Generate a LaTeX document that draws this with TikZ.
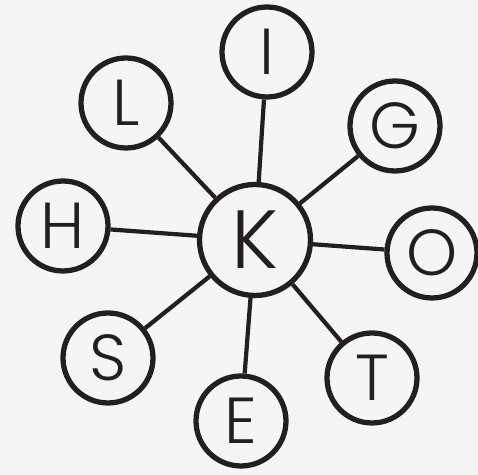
\documentclass[tikz,border=0pt]{standalone}
\usepackage{fontspec}
\setmainfont{Poppins Light}
\definecolor{bgcol}{HTML}{F5F5F5}
\definecolor{inkcol}{HTML}{231F20}

\begin{document}
\begin{tikzpicture}[x=0.02cm,y=-0.02cm,
    ring/.style={draw=inkcol,circle,line width=3pt,inner sep=0pt,minimum size=1.8cm,font=\fontsize{37}{37}\selectfont,text=inkcol},
    hub/.style={ring,minimum size=2.22cm,font=\fontsize{47}{47}\selectfont},
    spoke/.style={inkcol,line width=2.4pt}]

    % background
    \fill[bgcol] (0,0) rectangle (478,475);
    \useasboundingbox (0,0) rectangle (478,475);

    % centre
    \node[hub] (k) at (255,240) {K};

    % outer letters
    \node[ring] (i) at (267,52) {I};
    \node[ring] (g) at (395,126) {G};
    \node[ring] (o) at (432,253) {O};
    \node[ring] (t) at (372,378) {T};
    \node[ring] (e) at (241,421) {E};
    \node[ring] (s) at (108,358) {S};
    \node[ring] (h) at (63,226) {H};
    \node[ring] (l) at (126,103) {L};

    \foreach \n in {i,g,o,t,e,s,h,l}
        \draw[spoke] (k) -- (\n);

\end{tikzpicture}
\end{document}
